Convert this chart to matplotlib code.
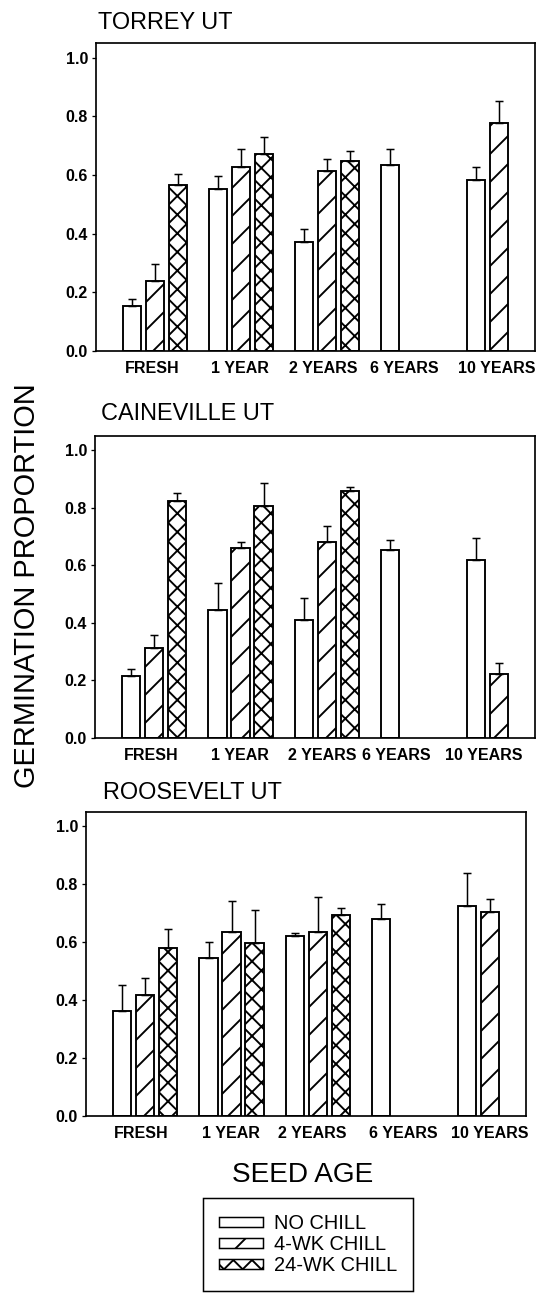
import numpy as np
import matplotlib
matplotlib.use("Agg")
import matplotlib.pyplot as plt
from matplotlib.patches import Patch

# ---------------- data ----------------
categories = ["FRESH", "1 YEAR", "2 YEARS", "6 YEARS", "10 YEARS"]
treatments = ["NO CHILL", "4-WK CHILL", "24-WK CHILL"]
sites = ["TORREY UT", "CAINEVILLE UT", "ROOSEVELT UT"]
nan = np.nan

torrey_no_chill = [0.155, 0.553, 0.372, 0.635, 0.582]
torrey_no_chill_se = [0.022, 0.042, 0.045, 0.053, 0.044]
torrey_4wk = [0.240, 0.628, 0.614, nan, 0.778]
torrey_4wk_se = [0.056, 0.059, 0.042, nan, 0.074]
torrey_24wk = [0.566, 0.673, 0.647, nan, nan]
torrey_24wk_se = [0.036, 0.056, 0.035, nan, nan]

caineville_no_chill = [0.214, 0.446, 0.410, 0.654, 0.618]
caineville_no_chill_se = [0.026, 0.092, 0.077, 0.035, 0.076]
caineville_4wk = [0.313, 0.660, 0.683, nan, 0.223]
caineville_4wk_se = [0.044, 0.023, 0.055, nan, 0.037]
caineville_24wk = [0.823, 0.808, 0.859, nan, nan]
caineville_24wk_se = [0.029, 0.078, 0.013, nan, nan]

roosevelt_no_chill = [0.363, 0.546, 0.623, 0.680, 0.727]
roosevelt_no_chill_se = [0.089, 0.054, 0.009, 0.052, 0.114]
roosevelt_4wk = [0.418, 0.636, 0.635, nan, 0.704]
roosevelt_4wk_se = [0.060, 0.108, 0.123, nan, 0.044]
roosevelt_24wk = [0.581, 0.596, 0.694, nan, nan]
roosevelt_24wk_se = [0.066, 0.114, 0.024, nan, nan]

yticks = [0.0, 0.2, 0.4, 0.6, 0.8, 1.0]
ytick_labels = ["0.0", "0.2", "0.4", "0.6", "0.8", "1.0"]

site_means = [
    [torrey_no_chill, torrey_4wk, torrey_24wk],
    [caineville_no_chill, caineville_4wk, caineville_24wk],
    [roosevelt_no_chill, roosevelt_4wk, roosevelt_24wk],
]
site_ses = [
    [torrey_no_chill_se, torrey_4wk_se, torrey_24wk_se],
    [caineville_no_chill_se, caineville_4wk_se, caineville_24wk_se],
    [roosevelt_no_chill_se, roosevelt_4wk_se, roosevelt_24wk_se],
]

# ---------------- layout ----------------
DPI = 168
W, H = 540, 1296
PT = 72.0 / DPI  # px -> pt


def px(v):
    return v * PT


plt.rcParams["font.family"] = ["Liberation Sans", "DejaVu Sans"]
plt.rcParams["hatch.linewidth"] = px(1.9)
plt.rcParams["hatch.color"] = "black"

fig = plt.figure(figsize=(W / DPI, H / DPI), dpi=DPI)
fig.patch.set_facecolor("white")

# axes boxes in px: left, right, top, bottom
boxes = [(96, 535, 43, 351), (95, 535, 436, 738), (86, 526, 812, 1116)]
title_pos = [(98, 29), (101, 420), (103, 799)]
label_shift_px = [[-3, -1, -4, -9, -2], [-3, -1, -4, -16, -15], [-4, -1, -5, 0, 0]]
GROUP_PX = 86.0
hatches = ["", "//", "xxx"]
offsets = [-0.267, 0.0, 0.267]
bar_w = 0.21
xg = np.arange(len(categories))

for i, (l, r, t, b) in enumerate(boxes):
    ax = fig.add_axes([l / W, 1 - b / H, (r - l) / W, (b - t) / H])
    for j in range(3):
        m = np.array(site_means[i][j], dtype=float)
        s = np.array(site_ses[i][j], dtype=float)
        ok = ~np.isnan(m)
        xs = xg[ok] + offsets[j]
        ax.bar(xs, m[ok], width=bar_w, facecolor="white", edgecolor="black",
               linewidth=px(1.9), hatch=hatches[j], zorder=2)
        ax.errorbar(xs, m[ok], yerr=[np.zeros(ok.sum()), s[ok]], fmt="none",
                    ecolor="black", elinewidth=px(1.5), capsize=px(4),
                    capthick=px(1.5), zorder=3)
    ax.set_xlim(-0.69, 4.42)
    ax.set_ylim(0, 1.05)
    ax.set_yticks(yticks)
    ax.set_yticklabels(ytick_labels, fontsize=px(16), fontweight="bold")
    ax.set_xticks(xg + np.array(label_shift_px[i]) / GROUP_PX)
    ax.set_xticklabels(categories, fontsize=px(16), fontweight="bold")
    ax.tick_params(axis="x", length=0, pad=px(10))
    ax.tick_params(axis="y", direction="out", length=px(4), width=px(1.3), pad=px(4))
    for sp in ax.spines.values():
        sp.set_linewidth(px(1.7))
        sp.set_color("black")
    tx, ty = title_pos[i]
    fig.text(tx / W, 1 - ty / H, sites[i], fontsize=px(23.5), ha="left", va="baseline")

fig.text(27 / W, 1 - 586 / H, "GERMINATION PROPORTION", rotation=90,
         fontsize=px(29), ha="center", va="center")
fig.text(303 / W, 1 - 1175 / H, "SEED AGE", fontsize=px(28), ha="center", va="center")

handles = [Patch(facecolor="white", edgecolor="black", linewidth=px(1.5), hatch=hatches[j],
                 label=treatments[j]) for j in range(3)]
leg = fig.legend(handles=handles, loc="upper left", bbox_to_anchor=(203 / W, 1 - 1198 / H),
                 borderaxespad=0, borderpad=0.8, handlelength=2.2, handleheight=0.45,
                 handletextpad=0.55, labelspacing=0.1, frameon=True, fancybox=False,
                 edgecolor="black", framealpha=1, fontsize=px(20))
leg.get_frame().set_linewidth(px(1.5))

fig.savefig("out.png", dpi=DPI, facecolor="white")
